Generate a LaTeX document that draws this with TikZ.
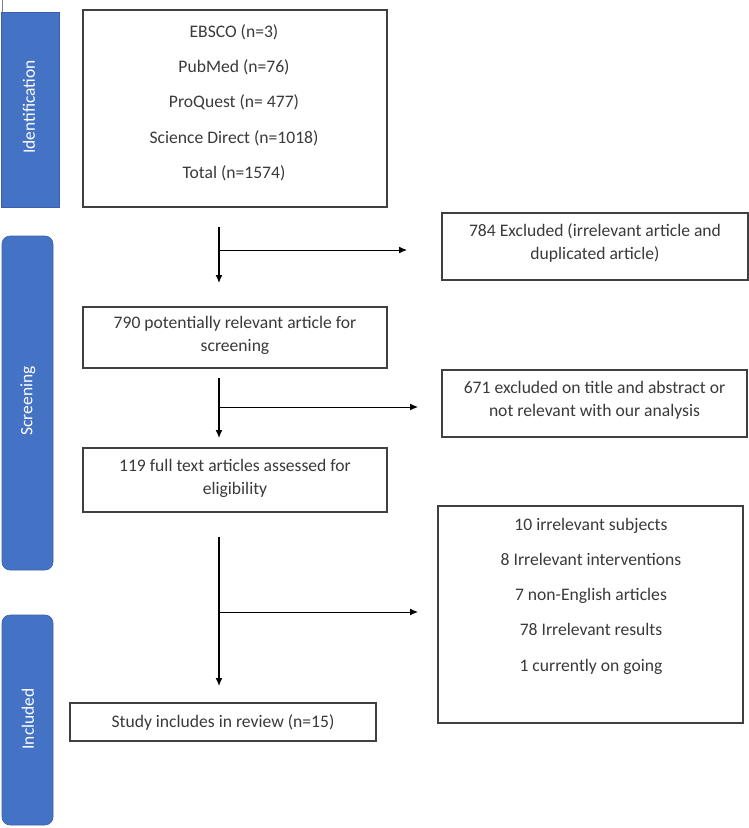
\documentclass[tikz,border=0pt]{standalone}
\usepackage{fontspec}
\setmainfont{Carlito}
\usetikzlibrary{arrows.meta}
\definecolor{barblue}{HTML}{4472C4}
\definecolor{ink}{HTML}{3A3A3A}
\definecolor{edge}{HTML}{404040}
\tikzset{
  bar/.style={fill=barblue, draw=barblue!85!black, line width=0.6pt},
  barlabel/.style={text=white, rotate=90, font=\fontsize{17.4}{21}\selectfont},
  flowbox/.style={draw=edge, line width=1.5pt, fill=white},
  txt/.style={text=ink, align=center, inner sep=0pt, font=\fontsize{17.6}{23}\selectfont},
  widetxt/.style={text=ink, align=center, inner sep=0pt, font=\fontsize{17.6}{35.3}\selectfont},
  flow/.style={draw=black, line width=1.2pt, -{Latex[length=8pt,width=7pt]}},
  branch/.style={draw=black, line width=1pt, -{Latex[length=8pt,width=7pt]}}
}
\begin{document}
\begin{tikzpicture}[x=1pt,y=-1pt]
\useasboundingbox (0,0) rectangle (749,828);
% stage bars
\draw[gray, line width=1pt] (2.5,0) -- (2.5,12);
\path[bar] (1,12) rectangle (59,207);
\path[bar, rounded corners=8pt] (2,236) rectangle (53,570);
\path[bar, rounded corners=8pt] (2,615) rectangle (53,825);
\node[barlabel] (lid) at (29,107) {Identification};
\node[barlabel] (lsc) at (28,401) {Screening};
\node[barlabel] (lin) at (28,719) {Included};
% main boxes
\node[flowbox, minimum width=304pt, minimum height=197pt] (b1) at (235,108.5) {};
\node[widetxt] (b1t) at (234,102.5) {EBSCO (n=3)\\PubMed (n=76)\\ProQuest (n= 477)\\Science Direct (n=1018)\\Total (n=1574)};
\node[flowbox, minimum width=304pt, minimum height=61pt] (b2) at (235,337.5) {};
\node[txt] (b2t) at (235,335) {790 potentially relevant article for\\screening};
\node[flowbox, minimum width=304pt, minimum height=64pt] (b3) at (235,480) {};
\node[txt] (b3t) at (235,478) {119 full text articles assessed for\\eligibility};
\node[flowbox, minimum width=306pt, minimum height=38pt] (b4) at (223,722) {};
\node[txt] (b4t) at (223,722) {Study includes in review (n=15)};
% excluded boxes
\node[flowbox, minimum width=306pt, minimum height=67pt] (e1) at (595,246.5) {};
\node[txt] (e1t) at (595,243) {784 Excluded (irrelevant article and\\duplicated article)};
\node[flowbox, minimum width=305pt, minimum height=67pt] (e2) at (594.5,403.5) {};
\node[txt] (e2t) at (594.5,400) {671 excluded on title and abstract or\\not relevant with our analysis};
\node[flowbox, minimum width=305pt, minimum height=217pt] (e3) at (590.5,614.5) {};
\node[widetxt] (e3t) at (591,596) {10 irrelevant subjects\\8 Irrelevant interventions\\7 non-English articles\\78 Irrelevant results\\1 currently on going};
% connectors
\coordinate (s1) at (219,227); \coordinate (t1) at (219,283);
\coordinate (j1) at (219,250); \coordinate (k1) at (407,250);
\coordinate (s2) at (219,378); \coordinate (t2) at (219,438);
\coordinate (j2) at (219,407); \coordinate (k2) at (418,407);
\coordinate (s3) at (219,537); \coordinate (t3) at (219,686);
\coordinate (j3) at (219,612); \coordinate (k3) at (418,612);
\draw[flow] (s1) -- (t1);
\draw[branch] (j1) -- (k1);
\draw[flow] (s2) -- (t2);
\draw[branch] (j2) -- (k2);
\draw[flow] (s3) -- (t3);
\draw[branch] (j3) -- (k3);
\end{tikzpicture}
\end{document}
